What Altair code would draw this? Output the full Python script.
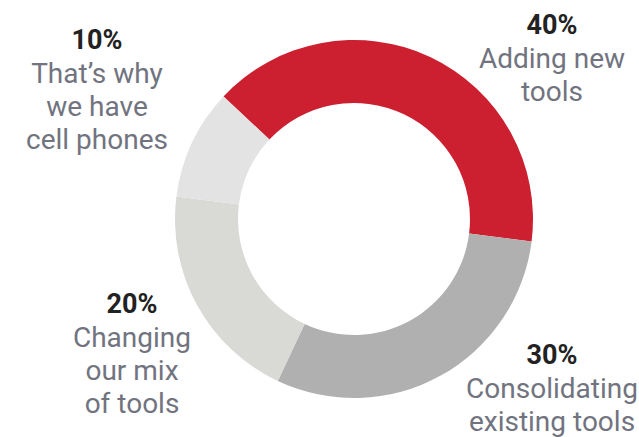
import math
import altair as alt
import pandas as pd

categories = ["Adding new tools", "Consolidating existing tools", "Changing our mix of tools", "That's why we have cell phones"]
values = [40, 30, 20, 10]
pct_labels = ["40%", "30%", "20%", "10%"]
desc_lines = [
    ["Adding new", "tools"],
    ["Consolidating", "existing tools"],
    ["Changing", "our mix", "of tools"],
    ["That\u2019s why", "we have", "cell phones"],
]
colors = ["#CC1F2F", "#B0B0B0", "#D9D9D6", "#E3E3E3"]

df = pd.DataFrame({"category": categories, "value": values, "order": list(range(len(values)))})

start = math.radians(-46.8)
cx, cy = 354, 219

arc = alt.Chart(df).mark_arc(innerRadius=116, outerRadius=179).encode(
    theta=alt.Theta("value:Q", stack=True, scale=alt.Scale(range=[start, start + 2 * math.pi])),
    order=alt.Order("order:Q"),
    color=alt.Color("category:N", scale=alt.Scale(domain=categories, range=colors), legend=None),
    x=alt.value(cx),
    y=alt.value(cy),
)

# label anchor positions (center x, baseline of percent line)
label_pos = [(552, 34), (552, 364), (132, 313), (97, 49)]

layers = [arc]
for i, cat in enumerate(categories):
    lx, ly = label_pos[i]
    sub = pd.DataFrame({"pct": [pct_labels[i]], "desc": [desc_lines[i]]})
    pct = alt.Chart(sub).mark_text(
        font="Roboto", fontSize=27, fontWeight="bold", color="#222222",
        align="center", baseline="alphabetic",
    ).encode(text="pct:N", x=alt.value(lx), y=alt.value(ly))
    desc = alt.Chart(sub).mark_text(
        font="Roboto", fontSize=28, color="#71747F", lineHeight=33,
        align="center", baseline="alphabetic",
    ).encode(text="desc", x=alt.value(lx), y=alt.value(ly + 34))
    layers += [pct, desc]

chart = alt.layer(*layers).properties(
    width=639, height=437, padding=0, autosize=alt.AutoSizeParams(type="none"),
).configure_view(stroke=None)

chart.save("out.html", embed_options={"renderer": "svg", "actions": False})
